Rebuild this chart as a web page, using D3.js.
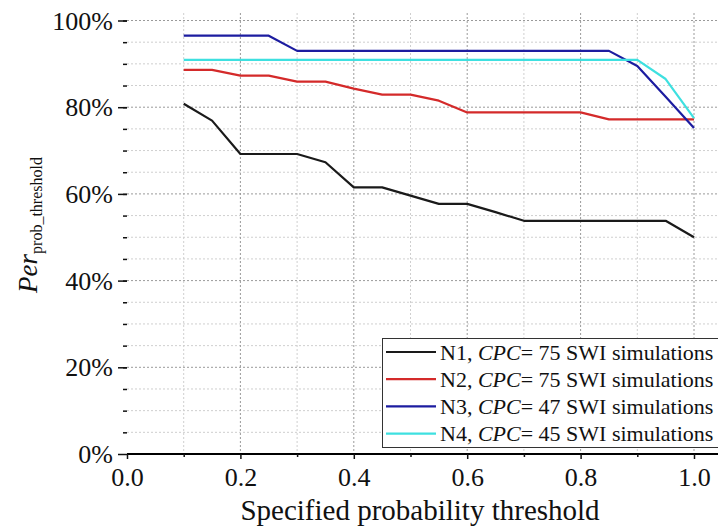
<!DOCTYPE html>
<html>
<head>
<meta charset="utf-8">
<script src="https://cdn.jsdelivr.net/npm/d3@7"></script>
<style>
  body { margin: 0; background: #fff; }
  text { font-family: "Liberation Serif", "Times New Roman", serif; fill: #111; }
</style>
</head>
<body>
<div id="chart"></div>
<script>

// thresholds on the x axis
var thresholds = [0.1, 0.15, 0.2, 0.25, 0.3, 0.35, 0.4, 0.45, 0.5, 0.55,
                  0.6, 0.65, 0.7, 0.75, 0.8, 0.85, 0.9, 0.95, 1.0];

// Per_prob_threshold, in percent
var n1 = [80.8, 76.9, 69.2, 69.2, 69.2, 67.3, 61.5, 61.5, 59.6, 57.7,
          57.7, 55.8, 53.8, 53.8, 53.8, 53.8, 53.8, 53.8, 50.0];
var n2 = [88.6, 88.6, 87.3, 87.3, 85.9, 85.9, 84.3, 82.9, 82.9, 81.5,
          78.8, 78.8, 78.8, 78.8, 78.8, 77.2, 77.2, 77.2, 77.2];
var n3 = [96.5, 96.5, 96.5, 96.5, 93.0, 93.0, 93.0, 93.0, 93.0, 93.0,
          93.0, 93.0, 93.0, 93.0, 93.0, 93.0, 89.5, 82.4, 75.2];
var n4 = [90.9, 90.9, 90.9, 90.9, 90.9, 90.9, 90.9, 90.9, 90.9, 90.9,
          90.9, 90.9, 90.9, 90.9, 90.9, 90.9, 90.9, 86.5, 77.5];

var seriesNames = ["N1", "N2", "N3", "N4"];
var seriesCpc = [75, 75, 47, 45];

var xTicks = [0, 0.2, 0.4, 0.6, 0.8, 1.0];
var yTicks = [0, 20, 40, 60, 80, 100];

(function () {

    "use strict";

    var W = 718, H = 532,
        colors = ["#1a1a1a", "#d42a2a", "#1c1ca0", "#3ee0e0"],
        allSeries = [n1, n2, n3, n4];

    var x = d3.scaleLinear().domain([0, 1]).range([127, 694]),
        y = d3.scaleLinear().domain([0, 100]).range([454, 20.5]);

    var svg = d3.select("#chart")
        .append("svg")
            .attr("width", W)
            .attr("height", H);

    var right = 718, top = 13;

    // minor grid
    var grid = svg.append("g");

    grid.selectAll("line.vminor")
        .data(d3.range(0.1, 1.05, 0.2))
        .enter().append("line")
            .attr("x1", function (d) { return x(d); })
            .attr("x2", function (d) { return x(d); })
            .attr("y1", top).attr("y2", y(0))
            .attr("stroke", "#cfcfcf")
            .attr("stroke-width", 1)
            .attr("stroke-dasharray", "2,2");

    grid.selectAll("line.hminor")
        .data(d3.range(5, 101, 5).filter(function (d) { return d % 20 !== 0; }))
        .enter().append("line")
            .attr("x1", x(0)).attr("x2", right)
            .attr("y1", function (d) { return y(d); })
            .attr("y2", function (d) { return y(d); })
            .attr("stroke", "#cfcfcf")
            .attr("stroke-width", 1)
            .attr("stroke-dasharray", "2,2");

    // major grid
    grid.selectAll("line.vmajor")
        .data(xTicks.slice(1))
        .enter().append("line")
            .attr("x1", function (d) { return x(d); })
            .attr("x2", function (d) { return x(d); })
            .attr("y1", top).attr("y2", y(0))
            .attr("stroke", "#9a9a9a")
            .attr("stroke-width", 1)
            .attr("stroke-dasharray", "2,2");

    grid.selectAll("line.hmajor")
        .data(yTicks.slice(1))
        .enter().append("line")
            .attr("x1", x(0)).attr("x2", right)
            .attr("y1", function (d) { return y(d); })
            .attr("y2", function (d) { return y(d); })
            .attr("stroke", "#9a9a9a")
            .attr("stroke-width", 1)
            .attr("stroke-dasharray", "2,2");

    // series
    var line = d3.line()
        .x(function (d) { return x(d[0]); })
        .y(function (d) { return y(d[1]); });

    svg.append("g").selectAll("path")
        .data(allSeries)
        .enter().append("path")
            .attr("d", function (s) { return line(d3.zip(thresholds, s)); })
            .attr("fill", "none")
            .attr("stroke", function (s, i) { return colors[i]; })
            .attr("stroke-width", 2.2)
            .attr("stroke-linejoin", "round");

    // axes
    var xAxis = svg.append("g")
        .attr("transform", "translate(0," + y(0) + ")")
        .call(d3.axisBottom(x).tickValues(xTicks).tickSize(5).tickPadding(9)
            .tickFormat(d3.format(".1f")));

    svg.append("g")
        .attr("transform", "translate(0," + y(0) + ")")
        .call(d3.axisBottom(x).tickValues(d3.range(0.1, 1.05, 0.2)).tickSize(3).tickFormat(""))
        .select(".domain").remove();

    var yAxis = svg.append("g")
        .attr("transform", "translate(" + x(0) + ",0)")
        .call(d3.axisLeft(y).tickValues(yTicks).tickSize(9).tickPadding(5)
            .tickFormat(function (d) { return d + "%"; }));

    svg.append("g")
        .attr("transform", "translate(" + x(0) + ",0)")
        .call(d3.axisLeft(y).tickValues(d3.range(5, 101, 5)).tickSize(4).tickFormat(""))
        .select(".domain").remove();

    xAxis.select(".domain").attr("d", "M" + x(0) + ",0H" + right).attr("stroke-width", 2);
    yAxis.select(".domain").attr("d", "M0,0V" + (y(100) - y(0) - 6)).attr("stroke-width", 2);

    svg.selectAll(".tick line").attr("stroke", "#111").attr("stroke-width", 1.5);

    xAxis.selectAll("text")
        .style("font-family", "Liberation Serif")
        .attr("font-size", 26)
        .attr("fill", "#111");

    yAxis.selectAll("text")
        .style("font-family", "Liberation Serif")
        .attr("font-size", 26)
        .attr("fill", "#111")
        .attr("dy", "0.33em");

    // axis titles
    svg.append("text")
        .attr("x", 420)
        .attr("y", 520)
        .attr("text-anchor", "middle")
        .attr("font-size", 29)
        .text("Specified probability threshold");

    var ytitle = svg.append("text")
        .attr("transform", "translate(37,225) rotate(-90)")
        .attr("text-anchor", "middle");

    ytitle.append("tspan")
        .attr("font-size", 27)
        .attr("font-style", "italic")
        .text("Per");

    ytitle.append("tspan")
        .attr("font-size", 16)
        .attr("dy", 5)
        .text("prob_threshold");

    // legend
    var legend = svg.append("g");

    legend.append("rect")
        .attr("x", 382.5).attr("y", 338.5)
        .attr("width", 345).attr("height", 109)
        .attr("fill", "#fff")
        .attr("stroke", "#333")
        .attr("stroke-width", 1);

    var rows = legend.selectAll("g.row")
        .data(seriesNames)
        .enter().append("g")
            .attr("transform", function (d, i) { return "translate(0," + (352 + i * 27.2) + ")"; });

    rows.append("line")
        .attr("x1", 386).attr("x2", 436)
        .attr("stroke", function (d, i) { return colors[i]; })
        .attr("stroke-width", 2.2);

    var lt = rows.append("text")
        .attr("x", 440)
        .attr("dy", "0.35em")
        .attr("font-size", 22);

    lt.append("tspan").text(function (d) { return d + ", "; });
    lt.append("tspan").attr("font-style", "italic").text("CPC");
    lt.append("tspan").text(function (d, i) { return "= " + seriesCpc[i] + " SWI simulations"; });

}());
</script>
</body>
</html>
